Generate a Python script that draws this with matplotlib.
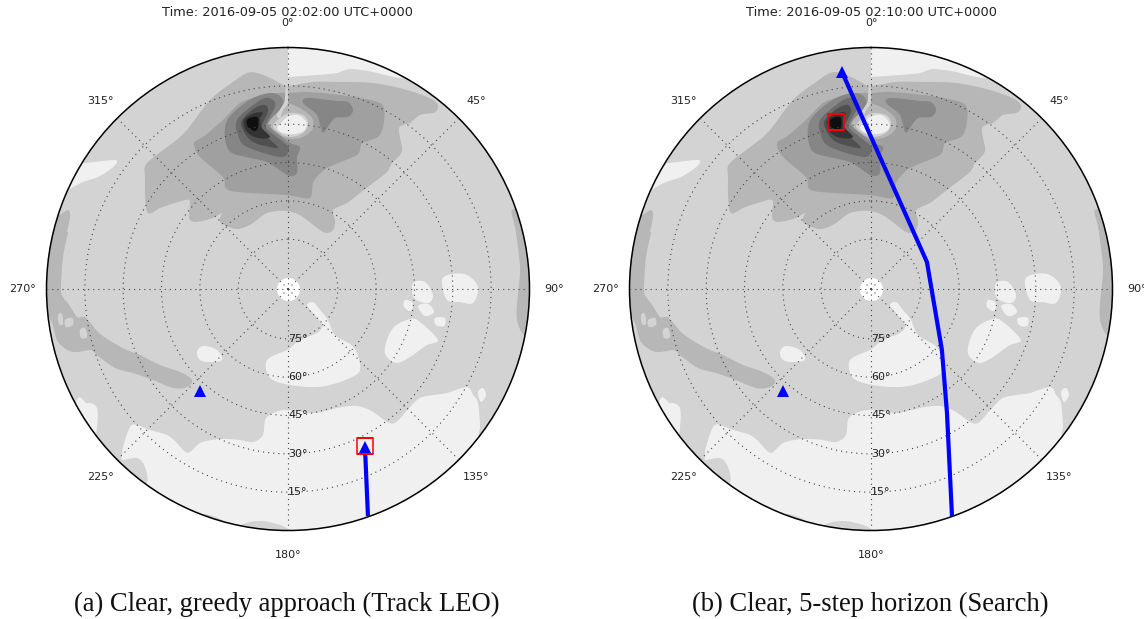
import numpy as np
import matplotlib
matplotlib.use("Agg")
import matplotlib.pyplot as plt

W, H = 1144, 619

# ---- chart values -------------------------------------------------------
AZ_TICKS = [0, 45, 90, 135, 180, 225, 270, 315]
AZ_LABELS = ["0°", "45°", "90°", "135°", "180°", "225°", "270°", "315°"]
ZEN_TICKS = [15, 30, 45, 60, 75]
ELEV_LABELS = ["75°", "60°", "45°", "30°", "15°"]
TITLES = ["Time: 2016-09-05 02:02:00 UTC+0000", "Time: 2016-09-05 02:10:00 UTC+0000"]
CAPTIONS = ["(a) Clear, greedy approach (Track LEO)", "(b) Clear, 5-step horizon (Search)"]

TARGET_AZ = [154.0, 220.8]              # satellites / targets
TARGET_ZEN = [64.3, 48.2]
TARGET_B_AZ = [352.4, 220.8]
TARGET_B_ZEN = [81.1, 48.2]
TRACK_A_AZ = [160.6, 154.4]             # telescope tracks
TRACK_A_ZEN = [89.7, 65.3]
TRACK_B_AZ = [160.4, 148.5, 130.7, 64.3, 352.4]
TRACK_B_ZEN = [90.0, 52.4, 32.1, 19.8, 81.1]
FOCUS_A = (154.0, 64.0)                 # selected target (az, zenith)
FOCUS_B = (348.2, 62.3)

# ---- cloud field: band boundaries (column, row) -------------------------
SOUTH = [(480,427),(478,403),(473,395),(467,387),(447,393),(427,396),(417,400),(403,415),(395,423),
         (387,422),(373,412),(357,406),(337,408),(313,413),(287,410),(273,413),(265,420),(263,435),
         (253,442),(240,440),(220,439),(200,443),(188,453),(177,443),(167,435),(150,430),(137,425),
         (130,427),(123,447),(122,456),(123,460),(137,458),(145,467),(147,483),(135,492),(120,530),
         (288,555),(480,530),(500,480),(480,440)]
SOUTH_BUMP = [(240,526),(257,521),(273,523),(288,529),(288,540),(240,540)]
SOUTH_SLIVER = [(205,514),(225,522),(222,530),(198,522)]
WEST_PATCH = [(75,160),(83,163),(112,160),(117,162),(112,168),(98,177),(83,182),(70,189),(60,195)]
SW_PATCH = [(78,398),(86,403),(90,403),(97,408),(97,427),(92,440),(72,425)]
NE_LIGHT = [(288,30),(288,30),(288,30),(288,77),(288,77),(288,77),(317,75),(337,73),(350,69),(373,72),
            (407,78),(425,60),(380,30)]
ISLAND_MID = [(307,305),(313,302),(320,310),(328,320),(335,335),(350,344),(357,353),(360,370),(350,378),
              (330,385),(313,387),(290,385),(270,378),(267,360),(287,350),(300,340),(317,333),(322,325),(313,313)]
ISLAND_SMALL = [(197,352),(203,346),(217,350),(222,360),(210,362),(200,360)]
ISLAND_EAST = [(385,347),(393,328),(410,319),(420,322),(438,340),(427,345),(410,357),(397,363),(387,357)]
ISLAND_NE1 = [(413,283),(425,282),(433,295),(428,303),(414,298)]
ISLAND_NE2 = [(442,280),(452,274),(467,275),(478,287),(473,303),(460,302),(447,300)]
SPECK_1 = [(405,300),(413,303),(411,311),(404,307)]
SPECK_2 = [(418,306),(428,304),(434,312),(425,316)]
SPECK_3 = [(435,318),(445,318),(444,326),(436,325)]
SPECK_4 = [(478,392),(483,388),(486,395),(481,402)]
SPECK_5 = [(65,320),(72,318),(73,325),(66,327)]
SPECK_6 = [(80,330),(85,328),(87,337),(81,338)]
SPECK_7 = [(58,315),(62,314),(63,324),(59,324)]

BAND72_MAIN = [(257,73),(270,78),(280,83),(288,86),(313,82),(340,82),(373,83),(407,90),(433,100),(438,108),
               (433,113),(420,115),(410,123),(399,128),(402,147),(400,155),(392,163),(387,172),(373,183),
               (360,193),(347,203),(333,210),(335,220),(333,230),(323,232),(303,217),(287,211),(267,213),
               (253,223),(237,229),(220,222),(222,213),(213,218),(195,222),(189,217),(190,203),(185,200),
               (160,208),(147,212),(145,177),(147,163),(170,145),(187,130),(210,100),(233,82),(247,73)]
BAND72_STRIP = [(50,300),(65,300),(77,317),(85,317),(98,332),(112,342),(127,350),(140,355),(160,365),(180,372),
                (192,380),(187,387),(173,388),(153,380),(133,373),(115,368),(97,355),(90,350),(73,352),(58,342),
                (52,323),(40,300)]
BAND72_WEST = [(58,215),(68,210),(70,217),(67,232),(68,233),(63,257),(61,292),(64,300),(45,310),(35,290),(40,215)]
BAND72_EAST = [(512,210),(515,227),(520,267),(518,293),(517,320),(527,335),(540,300),(530,220)]
BAND62_MAIN = [(194,143),(200,157),(223,177),(225,187),(237,192),(287,195),(310,198),(313,183),(327,168),
               (357,155),(362,143),(380,135),(384,108),(370,100),(340,95),(307,92),(290,93),(277,93),(257,97),
               (240,103),(223,120),(203,137)]
BAND52_WEST = [(225,127),(227,147),(237,155),(267,162),(287,175),(297,173),(297,157),(300,147),(288,142),
               (275,130),(268,123),(282,107),(282,98),(272,93),(253,98),(233,113)]
BAND52_EAST = [(303,100),(310,98),(337,101),(348,102),(353,110),(348,117),(335,118),(327,128),(322,132),
               (317,115),(305,105)]
BAND42 = [(237,120),(238,135),(247,147),(280,157),(288,152),(287,145),(268,130),(267,122),(275,107),(273,100),
          (265,98),(253,105)]
BAND31 = [(242,120),(243,130),(253,142),(275,148),(276,145),(263,133),(262,125),(268,112),(265,105),(255,108)]
BAND20 = [(244,120),(247,132),(258,138),(270,137),(262,128),(260,118),(263,113),(255,113)]
BAND07 = [(247,120),(248,127),(255,131),(258,127),(258,118),(253,117)]
DOME72 = [(286,100),(288,103),(300,108),(312,118),(312,130),(300,138),(287,138),(277,133),(269,125),(272,118),(282,108)]
DOME83 = [(290,113),(303,115),(308,123),(303,133),(290,137),(280,133),(273,126),(280,118)]
DOME94 = [(287,117),(298,115),(306,122),(305,130),(295,134),(283,133),(277,128),(282,122)]
SEAM83 = [(286,85),(287.5,85),(288,102),(283,110),(280,118),(277,115),(284,103),(285,97)]

READ_CENTRE = (288.0, 289.0)
PX_PER_DEG = 230.0 / 90.0
HOLE_DEG = 4.5

LAYERS = [
    ("#f0f0f0", [SOUTH, WEST_PATCH, SW_PATCH, NE_LIGHT, ISLAND_MID, ISLAND_SMALL, ISLAND_EAST, ISLAND_NE1,
                 ISLAND_NE2, SPECK_1, SPECK_2, SPECK_3, SPECK_4]),
    ("#d3d3d3", [SOUTH_BUMP, SOUTH_SLIVER]),
    ("#b7b7b7", [BAND72_MAIN, BAND72_STRIP, BAND72_WEST, BAND72_EAST]),
    ("#d3d3d3", [SPECK_5, SPECK_6, SPECK_7]),
    ("#a0a0a0", [BAND62_MAIN]),
    ("#868686", [BAND52_WEST, BAND52_EAST]),
    ("#6c6c6c", [BAND42]),
    ("#505050", [BAND31]),
    ("#333333", [BAND20]),
    ("#0f0f0f", [BAND07]),
    ("#b7b7b7", [DOME72]),
    ("#d3d3d3", [DOME83, SEAM83]),
    ("#f0f0f0", [DOME94]),
]


def smooth(points, passes=3):
    """Rounded outline through the read vertices (four-point subdivision)."""
    p = np.asarray(points, float)
    for _ in range(passes):
        mid = (9 * (p + np.roll(p, -1, axis=0)) - np.roll(p, 1, axis=0) - np.roll(p, -2, axis=0)) / 16
        p = np.column_stack([p, mid]).reshape(-1, 2)
    return p


def to_sky(points):
    """boundary reading -> (azimuth rad, zenith deg)"""
    p = smooth(points)
    east = p[:, 0] - READ_CENTRE[0]
    south = p[:, 1] - READ_CENTRE[1]
    return np.arctan2(east, -south), np.hypot(east, south) / PX_PER_DEG - HOLE_DEG


def panel(fig, left_px, title, track_az, track_zen, tgt_az, tgt_zen, focus):
    R = 241.5
    ax = fig.add_axes([left_px / W, (H - 289 - R) / H, 2 * R / W, 2 * R / H], projection="polar")
    ax.set_theta_zero_location("N")
    ax.set_theta_direction(-1)

    th = np.linspace(0, 2 * np.pi, 361)
    ax.fill_between(th, 0, 90, color="#d3d3d3", lw=0, zorder=1)
    for colour, regions in LAYERS:
        for reg in regions:
            t, z = to_sky(reg)
            ax.fill(t, z, color=colour, lw=0, zorder=1.2)

    ax.plot(np.radians(track_az), track_zen, color="#0000ff", lw=3, zorder=3, solid_capstyle="butt")
    ax.plot(np.radians(tgt_az), tgt_zen, ls="none", marker="^", ms=8, color="#0000ff", mew=0, zorder=4)
    ax.plot(np.radians(focus[0]), focus[1], ls="none", marker="s", ms=11.5, mfc="none", mec="#ff0000",
            mew=1.1, zorder=5)

    ax.set_ylim(-HOLE_DEG, 90)
    ax.set_xticks(np.radians(AZ_TICKS), AZ_LABELS, fontsize=8, color="#222222")
    ax.set_yticks(ZEN_TICKS, ELEV_LABELS, fontsize=8, color="#222222")
    ax.set_rlabel_position(180)
    ax.tick_params(axis="x", pad=7)
    ax.tick_params(axis="y", pad=0)
    for lab in ax.get_yticklabels():
        lab.set_ha("left")
        lab.set_va("center")
    ax.set_axisbelow(False)
    ax.grid(True, color="#444444", linewidth=0.8, linestyle=(0, (1, 3.6)))
    ax.spines["polar"].set_linewidth(1.1)
    ax.set_title(title, fontsize=9.25, y=1.0, pad=23, color="#222222")
    return ax


fig = plt.figure(figsize=(W / 100, H / 100), dpi=100)
panel(fig, 46.5, TITLES[0], TRACK_A_AZ, TRACK_A_ZEN, TARGET_AZ, TARGET_ZEN, FOCUS_A)
panel(fig, 629.5, TITLES[1], TRACK_B_AZ, TRACK_B_ZEN, TARGET_B_AZ, TARGET_B_ZEN, FOCUS_B)
serif = ["Liberation Serif", "DejaVu Serif"]
fig.text(286.5 / W, 1 - 604.5 / H, CAPTIONS[0], ha="center", va="center", fontsize=19.2, family=serif, color="#111111")
fig.text(870 / W, 1 - 604.5 / H, CAPTIONS[1], ha="center", va="center", fontsize=19.2, family=serif, color="#111111")
fig.savefig("out.png", dpi=100)
